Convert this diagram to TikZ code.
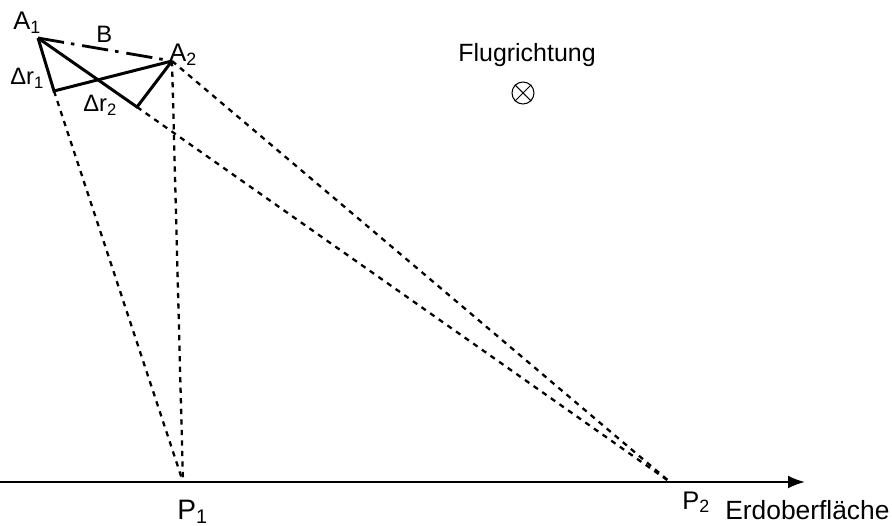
\documentclass[tikz,border=0pt]{standalone}
\usepackage{fontspec}
\setmainfont{Liberation Sans}
\usetikzlibrary{arrows.meta}

\begin{document}
\begin{tikzpicture}[x=0.02cm,y=-0.02cm,>={Latex[length=3.4mm,width=2.6mm]},
   lbl/.style={inner sep=0pt,anchor=base west,font=\fontsize{13.5}{16}\selectfont},
   lblbig/.style={inner sep=0pt,anchor=base west,font=\fontsize{16}{19}\selectfont},
   ray/.style={line width=1.3pt,dash pattern=on 3pt off 3pt},
   leg/.style={line width=1.7pt,line join=miter}]
  \useasboundingbox (0,0) rectangle (892,526);
  % antenna positions and range offsets
  \coordinate (a1) at (38,38);
  \coordinate (a2) at (172,61);
  \coordinate (r1) at (54,91);
  \coordinate (r2) at (137,107);
  % ground points
  \coordinate (p1) at (183,482);
  \coordinate (p2) at (670,482);
  \coordinate (g0) at (0,482);
  \coordinate (g1) at (805,482);
  \node[lbl,font=\fontsize{14.5}{17}\selectfont] (la1) at (13,30) {A\textsubscript{1}};
  \node[lbl,font=\fontsize{14.5}{17}\selectfont] (la2) at (169,62) {A\textsubscript{2}};
  \node[lbl] (lb) at (96,43) {B};
  \node[lbl] (lr1) at (10,85) {Δr\textsubscript{1}};
  \node[lbl] (lr2) at (83,112) {Δr\textsubscript{2}};
  \node[lbl,font=\fontsize{14.2}{17}\selectfont] (lfr) at (458,62) {Flugrichtung};
  \node[circle,draw,line width=0.6pt,minimum size=0.44cm,inner sep=0pt] (dir) at (523,93) {};
  \draw[line width=0.6pt] (dir.north west) -- (dir.south east) (dir.north east) -- (dir.south west);
  \node[lblbig] (lp1) at (177,519) {P\textsubscript{1}};
  \node[lbl,font=\fontsize{14.5}{17}\selectfont] (lp2) at (682,509) {P\textsubscript{2}};
  \node[lblbig,font=\fontsize{15}{18}\selectfont] (lerd) at (725,519) {Erdoberfläche};
  % baseline and geometry
  \draw[->,line width=1.3pt] (g0) -- (g1);
  \draw[line width=1.6pt,dash pattern=on 15pt off 4pt on 2pt off 4.5pt] (a1) -- (a2);
  \draw[leg] (a1) -- (r1) -- (a2);
  \draw[leg] (a1) -- (r2) -- (a2);
  \draw[ray] (r1) -- (p1);
  \draw[ray] (a2) -- (p1);
  \draw[ray] (a2) -- (p2);
  \draw[ray] (r2) -- (p2);
\end{tikzpicture}
\end{document}
